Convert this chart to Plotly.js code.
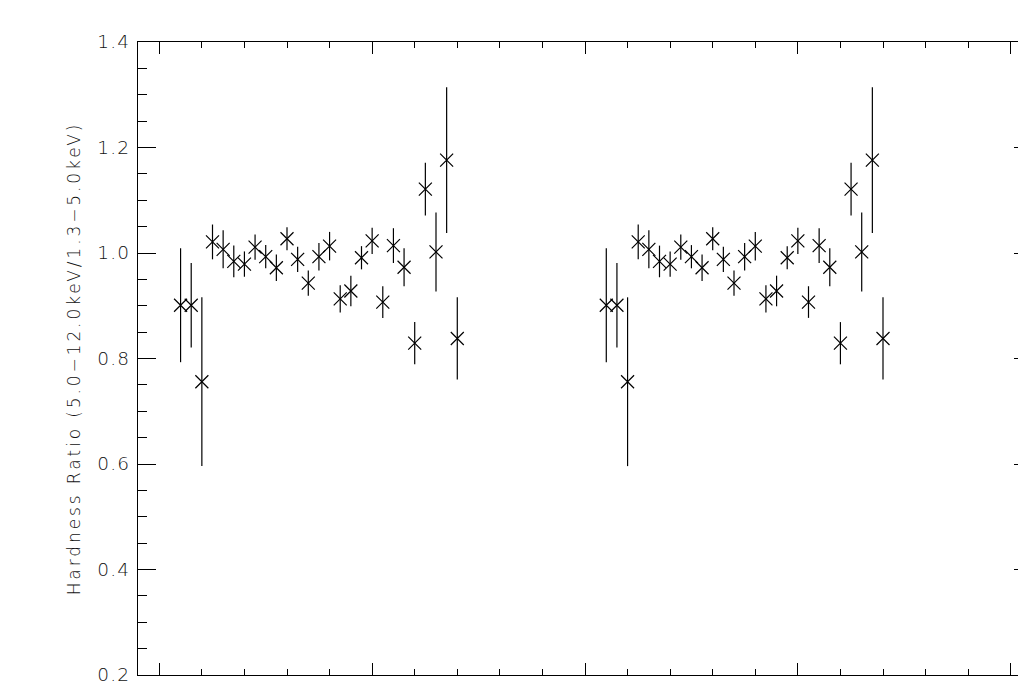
<!DOCTYPE html>
<html>
<head>
<meta charset="utf-8">
<script src="https://cdn.plot.ly/plotly-3.0.1.min.js"></script>
<style>
  html, body { margin: 0; padding: 0; overflow: hidden; background: #fff; }
  #chart { width: 1080px; height: 735px; }
  .ytick text { letter-spacing: 1.2px; }
  .g-ytitle text { letter-spacing: 2.9px; }
</style>
</head>
<body>
<div id="chart"></div>
<script>
// Phase bins (two cycles shown, same data repeated)
const phaseCycle1 = [0.050, 0.075, 0.100, 0.125, 0.150, 0.175, 0.200, 0.225, 0.250, 0.275,
                     0.300, 0.325, 0.350, 0.375, 0.400, 0.425, 0.450, 0.475, 0.500, 0.525,
                     0.550, 0.575, 0.600, 0.625, 0.650, 0.675, 0.700];
const phaseCycle2 = [1.050, 1.075, 1.100, 1.125, 1.150, 1.175, 1.200, 1.225, 1.250, 1.275,
                     1.300, 1.325, 1.350, 1.375, 1.400, 1.425, 1.450, 1.475, 1.500, 1.525,
                     1.550, 1.575, 1.600, 1.625, 1.650, 1.675, 1.700];
// Hardness ratio (5.0-12.0 keV / 1.3-5.0 keV)
const hardness = [0.901, 0.901, 0.756, 1.021, 1.007, 0.984, 0.979, 1.011, 0.993, 0.972,
                  1.027, 0.988, 0.943, 0.993, 1.013, 0.913, 0.928, 0.991, 1.023, 0.907,
                  1.014, 0.973, 0.829, 1.121, 1.002, 1.176, 0.838];
// 1-sigma errors
const hardnessErr = [0.108, 0.080, 0.160, 0.033, 0.036, 0.030, 0.024, 0.024, 0.022, 0.025,
                     0.022, 0.024, 0.024, 0.026, 0.027, 0.026, 0.029, 0.022, 0.025, 0.030,
                     0.033, 0.036, 0.040, 0.050, 0.075, 0.138, 0.078];

const yTickVals = [0.2, 0.4, 0.6, 0.8, 1.0, 1.2, 1.4];
const yTickText = ['0.2', '0.4', '0.6', '0.8', '1.0', '1.2', '1.4'];

const markerStyle = {
  symbol: 'x-thin-open', size: 13, color: '#000',
  line: { width: 1.2, color: '#000' }
};
const errStyle = (arr) => ({ type: 'data', array: arr, symmetric: true,
  visible: true, width: 0, thickness: 1.2, color: '#000' });

const traces = [
  { x: phaseCycle1, y: hardness, type: 'scatter', mode: 'markers',
    marker: markerStyle, error_y: errStyle(hardnessErr), showlegend: false, hoverinfo: 'x+y' },
  { x: phaseCycle2, y: hardness, type: 'scatter', mode: 'markers',
    marker: markerStyle, error_y: errStyle(hardnessErr), showlegend: false, hoverinfo: 'x+y' }
];

const tickFont = { family: 'DejaVu Sans, sans-serif', size: 18.5, color: '#111', weight: 300 };

const layout = {
  width: 1080, height: 735,
  margin: { l: 138, r: 48, t: 42, b: 60 },
  paper_bgcolor: '#fff', plot_bgcolor: '#fff',
  showlegend: false,
  xaxis: {
    range: [-0.05, 2.05], autorange: false,
    tickmode: 'linear', tick0: 0, dtick: 0.5,
    ticks: 'inside', ticklen: 12, tickwidth: 1, tickcolor: '#000',
    minor: { ticks: 'inside', ticklen: 6, tickwidth: 1, tickcolor: '#000', dtick: 0.1, tick0: 0, showgrid: false },
    showline: true, linecolor: '#000', linewidth: 1, mirror: 'ticks',
    showgrid: false, zeroline: false, showticklabels: false
  },
  yaxis: {
    range: [0.2, 1.4], autorange: false,
    tickmode: 'array', tickvals: yTickVals, ticktext: yTickText,
    ticks: 'inside', ticklen: 18, tickwidth: 1, tickcolor: '#000',
    minor: { ticks: 'inside', ticklen: 9, tickwidth: 1, tickcolor: '#000', dtick: 0.05, tick0: 0.2, showgrid: false },
    showline: true, linecolor: '#000', linewidth: 1, mirror: 'ticks',
    showgrid: false, zeroline: false,
    tickfont: tickFont, ticklabelstandoff: 3,
    title: { text: 'Hardness Ratio (5.0\u221212.0keV/1.3\u22125.0keV)',
             font: { family: 'DejaVu Sans, sans-serif', size: 17, color: '#111', weight: 300 },
             standoff: 12 }
  }
};

Plotly.newPlot('chart', traces, layout, { staticPlot: true, displayModeBar: false });
</script>
</body>
</html>
